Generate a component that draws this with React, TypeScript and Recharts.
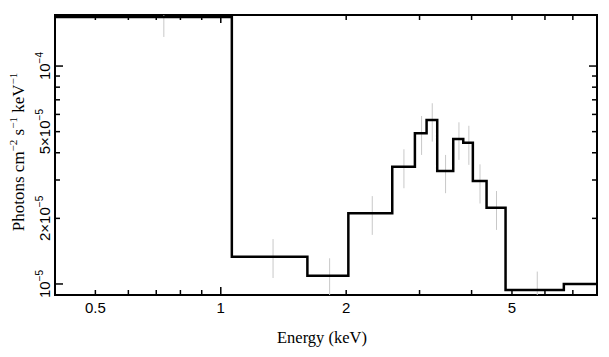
import React from 'react';
import { ComposedChart, Line, Scatter, ErrorBar, XAxis, YAxis, Label, ReferenceArea } from 'recharts';

// folded spectrum, bin edges in keV and flux per bin (photons cm^-2 s^-1 keV^-1)
const binEdges = [0.4, 1.063, 1.614, 2.024, 2.58, 2.924, 3.119, 3.308, 3.614, 3.82, 4.028, 4.345, 4.826, 6.66, 8.0];
const binFlux = [1.68e-4, 1.334e-5, 1.092e-5, 2.11e-5, 3.45e-5, 4.91e-5, 5.65e-5, 3.3e-5, 4.63e-5, 4.45e-5, 2.97e-5, 2.24e-5, 9.39e-6, 1.0e-5];

// data points: energy, lower and upper bound of the error bar
const errEnergy = [0.73, 1.335, 1.825, 2.31, 2.752, 3.034, 3.218, 3.464, 3.73, 3.94, 4.19, 4.59, 5.75];
const errLow = [1.36e-4, 1.065e-5, 8.9e-6, 1.68e-5, 2.75e-5, 3.91e-5, 4.5e-5, 2.61e-5, 3.71e-5, 3.52e-5, 2.34e-5, 1.77e-5, 8.9e-6];
const errHigh = [1.715e-4, 1.607e-5, 1.312e-5, 2.53e-5, 4.15e-5, 5.9e-5, 6.75e-5, 3.91e-5, 5.52e-5, 5.32e-5, 3.54e-5, 2.67e-5, 1.14e-5];

const xTicks = [0.5, 0.6, 0.7, 0.8, 0.9, 1, 2, 3, 4, 5, 6, 7, 8];
const xTickLabels = ['0.5', '', '', '', '', '1', '2', '', '', '5', '', '', ''];
const yTicks = [1e-5, 2e-5, 3e-5, 4e-5, 5e-5, 6e-5, 7e-5, 8e-5, 9e-5, 1e-4];
const yTickBase = ['10', '2×10', '', '', '5×10', '', '', '', '', '10'];
const yTickExp = ['−5', '−5', '', '', '−5', '', '', '', '', '−4'];

const xDomain = [0.4, 8];
const yDomain = [8.9e-6, 1.715e-4];

const stepData = binEdges.map((e, i) => ({ e, flux: binFlux[Math.min(i, binFlux.length - 1)] }));
const errData = errEnergy.map((e, i) => {
  const mid = Math.sqrt(errLow[i] * errHigh[i]);
  return { e, mid, err: [mid - errLow[i], errHigh[i] - mid] };
});

// layout
const W = 609;
const H = 357;
const margin = { top: 15, right: 12, bottom: 0, left: 0 };
const yAxisW = 55;
const xAxisH = 62;
const plotW = W - margin.left - margin.right - yAxisW;
const plotH = H - margin.top - margin.bottom - xAxisH;

const sans = '"Liberation Sans", Arial, Helvetica, sans-serif';
const serif = '"Liberation Serif", "Times New Roman", serif';

const findIdx = (arr: number[], v: number) => arr.findIndex((t) => Math.abs(t - v) / t < 1e-6);

// ticks point inwards on all four sides, labels only bottom/left
function XTick(props: any) {
  const { x, y, payload } = props;
  const i = findIdx(xTicks, payload.value);
  const len = payload.value === 1 ? 8 : 5;
  const label = i >= 0 ? xTickLabels[i] : '';
  const top = y - plotH;
  return (
    <g>
      <line x1={x} x2={x} y1={y} y2={y - len} stroke="#000" strokeWidth={1.5} />
      <line x1={x} x2={x} y1={top} y2={top + len} stroke="#000" strokeWidth={1.5} />
      {label && (
        <text x={x} y={y + 18} textAnchor="middle" fontSize={15} fontFamily={sans} fill="#000">
          {label}
        </text>
      )}
    </g>
  );
}

function YTick(props: any) {
  const { x, y, payload } = props;
  const i = findIdx(yTicks, payload.value);
  const major = i === 0 || i === yTicks.length - 1;
  const len = major ? 8 : 5;
  const base = i >= 0 ? yTickBase[i] : '';
  const tx = x - 5;
  const right = x + plotW;
  return (
    <g>
      <line x1={x} x2={x + len} y1={y} y2={y} stroke="#000" strokeWidth={1.5} />
      <line x1={right} x2={right - len} y1={y} y2={y} stroke="#000" strokeWidth={1.5} />
      {base && (
        <text x={tx} y={y} transform={`rotate(-90 ${tx} ${y})`} textAnchor="middle" fontSize={15} fontFamily={sans} fill="#000">
          {base}
          <tspan dy={-7} fontSize={10}>{yTickExp[i]}</tspan>
        </text>
      )}
    </g>
  );
}

const YTitle = (props: any) => {
  const { viewBox } = props;
  const x = 24;
  const y = viewBox.y + viewBox.height / 2 - 3;
  return (
    <text x={x} y={y} transform={`rotate(-90 ${x} ${y})`} textAnchor="middle" fontSize={17} fontFamily={serif} fill="#000">
      Photons cm
      <tspan dy={-7} fontSize={11}>−2</tspan>
      <tspan dy={7}>{'\u00a0s'}</tspan>
      <tspan dy={-7} fontSize={11}>−1</tspan>
      <tspan dy={7}>{'\u00a0keV'}</tspan>
      <tspan dy={-7} fontSize={11}>−1</tspan>
    </text>
  );
};

const XTitle = (props: any) => {
  const { viewBox } = props;
  return (
    <text x={viewBox.x + viewBox.width / 2 - 4} y={343} textAnchor="middle" fontSize={16.5} fontFamily={serif} fill="#000">
      Energy (keV)
    </text>
  );
};

export default function App() {
  return (
    <div style={{ position: 'absolute', left: 0, top: 0, background: '#fff' }}>
      <ComposedChart width={W} height={H} margin={margin}>
        <XAxis
          dataKey="e"
          type="number"
          scale="log"
          domain={xDomain}
          allowDataOverflow
          ticks={xTicks}
          interval={0}
          tickSize={0}
          tickMargin={0}
          tickLine={false}
          axisLine={false}
          tick={<XTick />}
          height={xAxisH}
        >
          <Label content={<XTitle />} />
        </XAxis>
        <YAxis
          type="number"
          scale="log"
          domain={yDomain}
          allowDataOverflow
          ticks={yTicks}
          interval={0}
          tickSize={0}
          tickMargin={0}
          tickLine={false}
          axisLine={false}
          tick={<YTick />}
          width={yAxisW}
        >
          <Label content={<YTitle />} />
        </YAxis>
        <Scatter data={errData} dataKey="mid" shape={() => <g />} isAnimationActive={false}>
          <ErrorBar dataKey="err" direction="y" width={0} stroke="#c8c8c8" strokeWidth={1} />
        </Scatter>
        <Line
          data={stepData}
          dataKey="flux"
          type="stepAfter"
          stroke="#000"
          strokeWidth={2.5}
          strokeLinejoin="miter"
          dot={false}
          activeDot={false}
          isAnimationActive={false}
        />
        {/* plot frame */}
        <ReferenceArea
          x1={xDomain[0]}
          x2={xDomain[1]}
          y1={yDomain[0]}
          y2={yDomain[1]}
          fill="none"
          fillOpacity={0}
          stroke="#000"
          strokeWidth={2}
          ifOverflow="visible"
        />
      </ComposedChart>
    </div>
  );
}
